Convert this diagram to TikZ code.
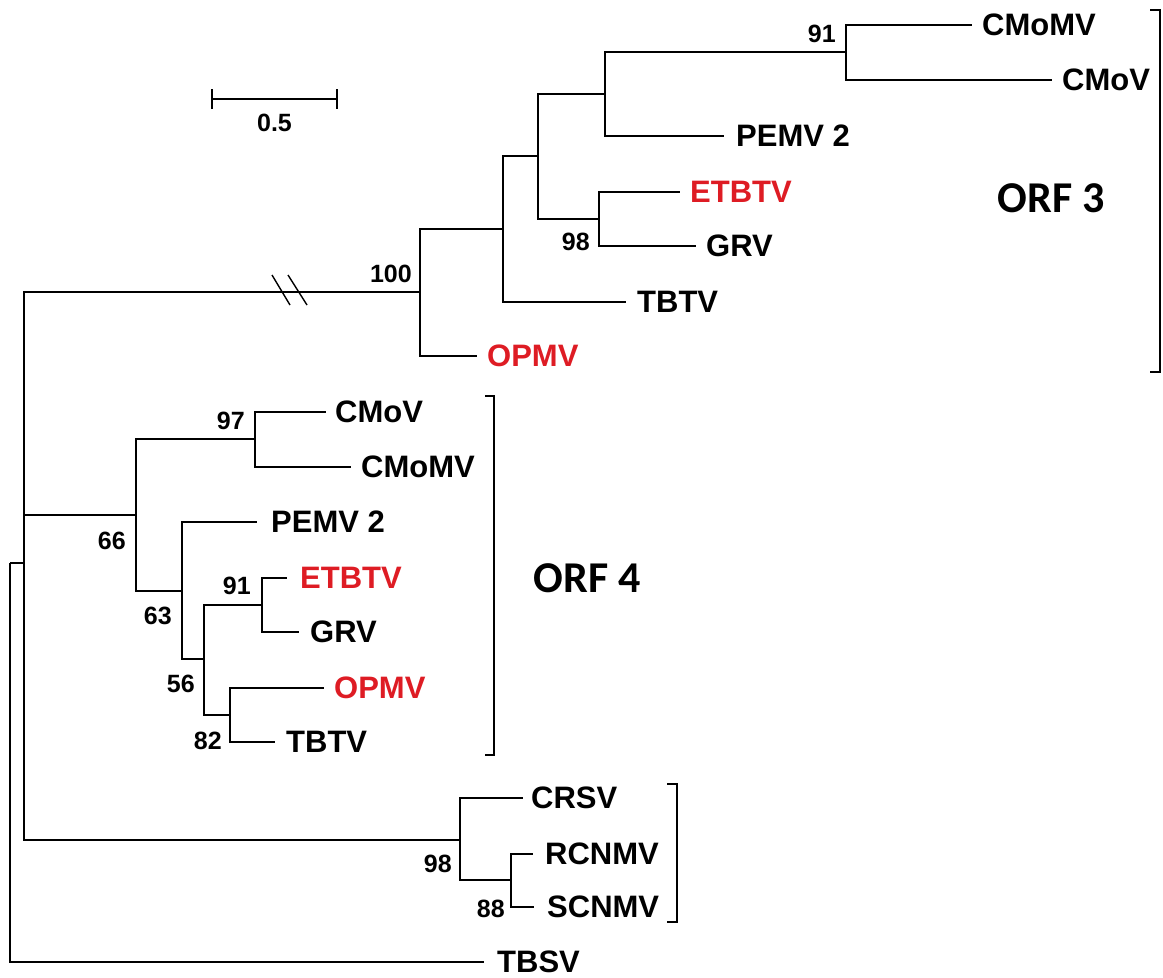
\documentclass[tikz,border=0pt]{standalone}
\usepackage{fontspec}
\setmainfont{Liberation Sans}
\newfontfamily\orffont{Carlito}
\usetikzlibrary{calc,arrows.meta,positioning}
\definecolor{tipred}{RGB}{222,28,36}
\newcommand{\leaffont}{\fontsize{31}{35}\selectfont\bfseries}
\newcommand{\bootfont}{\fontsize{25}{28}\selectfont\bfseries}
\newcommand{\orflabelfont}{\orffont\fontsize{44}{50}\selectfont\bfseries}
\tikzstyle{branch} = [line width=2.8pt]
\tikzstyle{leaf} = [inner sep=0pt, font=\leaffont]
\tikzstyle{boot} = [inner sep=0pt, font=\bootfont]
\tikzstyle{clade} = [line width=2.4pt]

\begin{document}
\begin{tikzpicture}[x=1pt,y=-1pt]
	\useasboundingbox (0,0) rectangle (1163,978);

	%% internal nodes
	\coordinate (R) at (10,563);   % root
	\coordinate (A) at (24,563);
	\coordinate (N3) at (420,292);
	\coordinate (N3a) at (503,229);
	\coordinate (N3b) at (538,156);
	\coordinate (N3c) at (605,94);
	\coordinate (N3d) at (599,219);
	\coordinate (N3e) at (846,52);
	\coordinate (N4) at (136,515);
	\coordinate (N4a) at (255,439);
	\coordinate (N4b) at (182,591);
	\coordinate (N4c) at (204,659);
	\coordinate (N4d) at (262,605);
	\coordinate (N4e) at (230,715);
	\coordinate (NC) at (460,840);
	\coordinate (NC2) at (511,880);

	%% leaf ends
	\coordinate (l3cmomv) at (972,25);
	\coordinate (l3cmov) at (1052,80);
	\coordinate (l3pemv) at (724,136);
	\coordinate (l3etbtv) at (680,192);
	\coordinate (l3grv) at (696,246);
	\coordinate (l3tbtv) at (626,302);
	\coordinate (l3opmv) at (477,356);
	\coordinate (l4cmov) at (326,412);
	\coordinate (l4cmomv) at (351,467);
	\coordinate (l4pemv) at (257,522);
	\coordinate (l4etbtv) at (287,578);
	\coordinate (l4grv) at (299,632);
	\coordinate (l4opmv) at (324,688);
	\coordinate (l4tbtv) at (275,742);
	\coordinate (lcrsv) at (523,798);
	\coordinate (lrcnmv) at (533,854);
	\coordinate (lscnmv) at (534,907);
	\coordinate (ltbsv) at (484,962);

	%% branches
	\draw[branch] (R) |- (A);
	\draw[branch] (R) |- (ltbsv);
	\draw[branch] (A) |- (N3);
	\draw[branch] (A) |- (N4);
	\draw[branch] (A) |- (NC);

	% ORF 3
	\draw[branch] (N3) |- (N3a);
	\draw[branch] (N3) |- (l3opmv);
	\draw[branch] (N3a) |- (N3b);
	\draw[branch] (N3a) |- (l3tbtv);
	\draw[branch] (N3b) |- (N3c);
	\draw[branch] (N3b) |- (N3d);
	\draw[branch] (N3c) |- (N3e);
	\draw[branch] (N3c) |- (l3pemv);
	\draw[branch] (N3e) |- (l3cmomv);
	\draw[branch] (N3e) |- (l3cmov);
	\draw[branch] (N3d) |- (l3etbtv);
	\draw[branch] (N3d) |- (l3grv);

	% ORF 4
	\draw[branch] (N4) |- (N4a);
	\draw[branch] (N4) |- (N4b);
	\draw[branch] (N4a) |- (l4cmov);
	\draw[branch] (N4a) |- (l4cmomv);
	\draw[branch] (N4b) |- (l4pemv);
	\draw[branch] (N4b) |- (N4c);
	\draw[branch] (N4c) |- (N4d);
	\draw[branch] (N4c) |- (N4e);
	\draw[branch] (N4d) |- (l4etbtv);
	\draw[branch] (N4d) |- (l4grv);
	\draw[branch] (N4e) |- (l4opmv);
	\draw[branch] (N4e) |- (l4tbtv);

	% outgroup clade
	\draw[branch] (NC) |- (lcrsv);
	\draw[branch] (NC) |- (NC2);
	\draw[branch] (NC2) |- (lrcnmv);
	\draw[branch] (NC2) |- (lscnmv);

	%% break on the long branch
	\draw[line width=1.4pt] (272,275) -- (290,305);
	\draw[line width=1.4pt] (288,275) -- (307,305);

	%% tip labels
	\node[leaf, right=10pt of l3cmomv] (t3cmomv) {CMoMV};
	\node[leaf, right=10pt of l3cmov] (t3cmov) {CMoV};
	\node[leaf, right=12pt of l3pemv] (t3pemv) {PEMV 2};
	\node[leaf, right=10pt of l3etbtv, text=tipred] (t3etbtv) {ETBTV};
	\node[leaf, right=10pt of l3grv] (t3grv) {GRV};
	\node[leaf, right=11pt of l3tbtv] (t3tbtv) {TBTV};
	\node[leaf, right=10pt of l3opmv, text=tipred] (t3opmv) {OPMV};
	\node[leaf, right=9pt of l4cmov] (t4cmov) {CMoV};
	\node[leaf, right=10pt of l4cmomv] (t4cmomv) {CMoMV};
	\node[leaf, right=14pt of l4pemv] (t4pemv) {PEMV 2};
	\node[leaf, right=13pt of l4etbtv, text=tipred] (t4etbtv) {ETBTV};
	\node[leaf, right=11pt of l4grv] (t4grv) {GRV};
	\node[leaf, right=10pt of l4opmv, text=tipred] (t4opmv) {OPMV};
	\node[leaf, right=11pt of l4tbtv] (t4tbtv) {TBTV};
	\node[leaf, right=8pt of lcrsv] (tcrsv) {CRSV};
	\node[leaf, right=12pt of lrcnmv] (trcnmv) {RCNMV};
	\node[leaf, right=13pt of lscnmv] (tscnmv) {SCNMV};
	\node[leaf, right=13pt of ltbsv] (ttbsv) {TBSV};

	%% bootstrap values
	\node[boot, above left=9pt and 8pt of N3] (b100) {100};
	\node[boot, below left=14pt and 9pt of N3d] (b98a) {98};
	\node[boot, above left=9pt and 10pt of N3e] (b91a) {91};
	\node[boot, above left=9pt and 10pt of N4a] (b97) {97};
	\node[boot, below left=17pt and 10pt of N4] (b66) {66};
	\node[boot, below left=16pt and 10pt of N4b] (b63) {63};
	\node[boot, above left=10pt and 11pt of N4d] (b91b) {91};
	\node[boot, below left=16pt and 9pt of N4c] (b56) {56};
	\node[boot, below left=17pt and 8pt of N4e] (b82) {82};
	\node[boot, below left=15pt and 8pt of NC] (b98b) {98};
	\node[boot, below left=20pt and 6pt of NC2] (b88) {88};

	%% scale bar
	\coordinate (sb1) at (211,99);
	\coordinate (sb2) at (338,99);
	\draw[line width=2.4pt, {Bar[width=20pt]}-{Bar[width=20pt]}] (sb1) -- (sb2)
		node[boot, midway, below=14pt] (sblab) {0.5};

	%% clade brackets
	\coordinate (c3top) at (1150,10);
	\coordinate (c3bot) at (1150,372);
	\draw[clade] (c3top) -- ++(10,0) |- (c3bot);
	\coordinate (c4top) at (485,396);
	\coordinate (c4bot) at (485,755);
	\draw[clade] (c4top) -- ++(9,0) |- (c4bot);
	\coordinate (cctop) at (667,784);
	\coordinate (ccbot) at (667,922);
	\draw[clade] (cctop) -- ++(10,0) |- (ccbot);

	\node[font=\orflabelfont] (orf3) at (1051,198) {ORF 3};
	\node[font=\orflabelfont] (orf4) at (587,578) {ORF 4};
\end{tikzpicture}
\end{document}
